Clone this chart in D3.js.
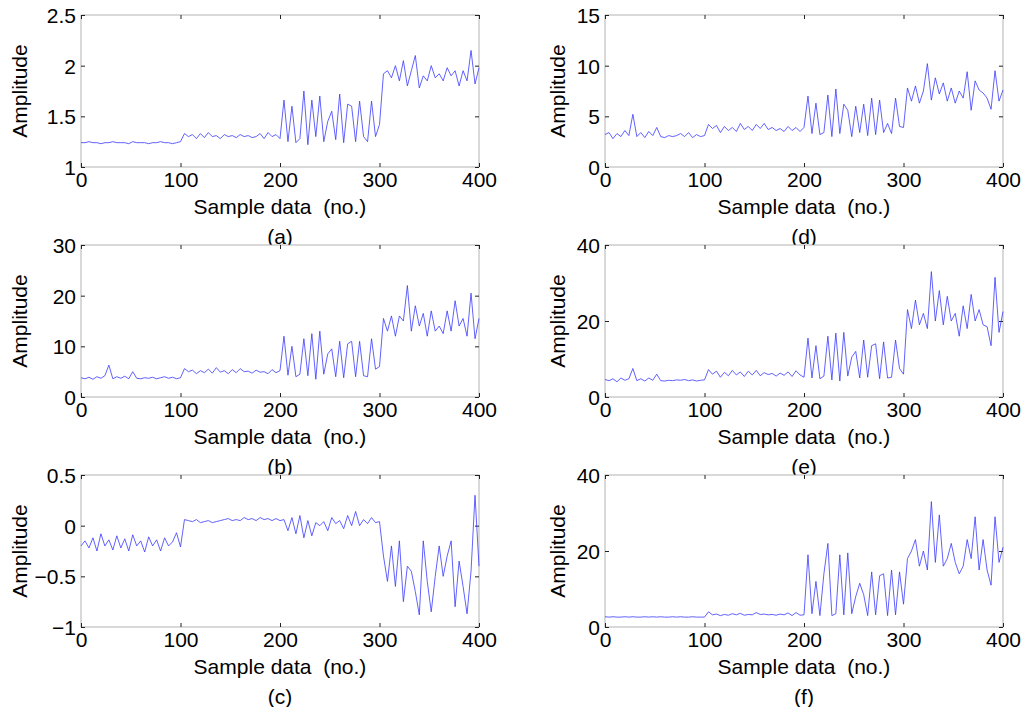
<!DOCTYPE html>
<html><head><meta charset="utf-8">
<script src="https://cdn.jsdelivr.net/npm/d3@7"></script>
<style>body{margin:0;background:#fff} text{white-space:pre}</style></head>
<body><svg id="c" width="1024" height="707"></svg>
<script>
// sample positions: every 4th sample, 0..400
const samples = d3.range(0, 401, 4);
const seriesA = [1.24,1.24,1.25,1.24,1.24,1.23,1.24,1.24,1.25,1.24,1.24,1.24,1.23,1.25,1.24,1.24,1.24,1.23,1.24,1.24,1.25,1.24,1.24,1.23,1.24,1.25,
 1.33,1.30,1.32,1.28,1.33,1.29,1.34,1.30,1.31,1.28,1.32,1.30,1.31,1.29,1.32,1.30,1.31,1.29,1.30,1.33,1.28,1.34,1.30,1.32,1.28,
 1.66,1.25,1.60,1.24,1.28,1.75,1.22,1.66,1.30,1.70,1.25,1.45,1.55,1.27,1.72,1.24,1.62,1.60,1.25,1.65,1.30,1.25,1.65,1.30,1.42,
 1.92,1.95,1.88,2.00,1.85,2.05,1.80,1.95,2.10,1.78,1.90,1.85,2.00,1.88,1.92,1.85,1.98,1.90,1.95,1.80,1.95,1.85,2.15,1.82,1.98];
const seriesB = [3.8,3.6,3.9,3.5,4.0,3.7,4.2,6.3,3.6,4.0,3.7,4.1,3.6,5.0,3.7,3.6,3.8,3.7,3.9,3.6,3.8,4.0,3.7,3.9,3.6,3.8,
 5.6,5.0,5.3,4.6,5.2,4.8,5.5,4.7,5.8,4.9,5.2,4.6,5.4,4.8,5.6,5.0,5.1,4.7,5.3,4.9,5.0,4.6,5.4,4.8,5.2,
 12,4.3,10,4.0,4.5,11.5,4.2,12.5,3.5,13,4.5,8.5,9.5,4.0,11,3.8,10.5,11,4.0,11,4.2,4.0,11.5,5.5,6.0,
 15.5,13,16,12,16,15,22,13,18,14,16.5,12,17,13,14,12.5,17,13,19,14,15.5,12,20.5,11.5,15.5];
const seriesC = [-0.2,-0.15,-0.22,-0.12,-0.25,-0.08,-0.2,-0.14,-0.24,-0.1,-0.22,-0.13,-0.25,-0.09,-0.2,-0.15,-0.26,-0.11,-0.2,-0.14,-0.25,-0.12,-0.2,-0.16,-0.07,-0.21,
 0.06,0.05,0.04,0.06,0.03,0.04,0.05,0.03,0.04,0.05,0.06,0.07,0.05,0.06,0.05,0.08,0.06,0.07,0.05,0.08,0.06,0.07,0.05,0.07,0.05,
 0.06,-0.05,0.08,-0.08,0.1,-0.12,0.05,-0.1,0.03,0.0,0.04,-0.05,0.08,0.02,0.05,-0.03,0.1,0.0,0.14,0.0,0.06,0.02,0.08,0.03,0.04,
 -0.3,-0.55,-0.2,-0.6,-0.15,-0.75,-0.4,-0.45,-0.65,-0.88,-0.15,-0.55,-0.85,-0.5,-0.2,-0.5,-0.3,-0.15,-0.8,-0.35,-0.6,-0.87,-0.45,0.3,-0.4];
const seriesD = [3.2,3.4,2.8,3.3,3.0,3.6,3.1,5.2,3.0,3.4,2.9,3.5,3.1,3.9,3.0,2.9,3.1,3.0,3.1,3.3,3.0,3.4,2.9,3.2,3.0,3.1,
 4.2,3.8,4.1,3.4,4.0,3.6,3.9,3.5,4.3,3.7,4.0,3.6,4.2,3.8,4.3,3.7,3.9,3.6,3.8,3.5,4.0,3.6,3.9,3.5,3.9,
 7.0,3.3,6.3,3.2,3.4,7.1,3.0,7.7,3.3,6.2,5.6,3.0,6.0,3.4,6.2,3.1,6.8,3.2,6.6,3.4,4.3,3.3,6.8,4.0,3.9,
 7.8,6.5,8.0,6.3,7.5,10.2,6.6,8.8,7.2,8.3,6.5,7.8,6.3,7.5,6.8,9.4,5.6,8.5,7.6,7.3,6.8,5.7,9.5,6.5,7.6];
const seriesE = [4.6,4.3,4.8,4.0,5.0,4.4,4.8,7.5,4.3,4.8,4.2,5.0,4.4,6.0,4.3,4.2,4.4,4.3,4.5,4.4,4.6,4.3,4.5,4.2,4.4,4.5,
 7.2,6.0,6.8,5.2,6.5,5.6,7.0,5.8,6.6,5.4,6.8,5.8,7.0,5.6,6.4,5.9,6.2,5.5,6.3,5.7,6.6,5.4,6.9,5.8,5.2,
 15.5,5.0,13.5,4.8,5.5,16,4.5,16.8,4.2,17,5.5,10.5,12,5.0,15,5.2,13.5,14,4.8,14.5,5.0,5.2,15,7.5,6.0,
 23,18,25.5,19,22,18,33,20,28,19,26.5,20,22,16,24,18,27,20,23,19,18.5,13.5,31.5,17,22.5];
const seriesF = [2.7,2.6,2.7,2.6,2.6,2.7,2.6,2.7,2.6,2.6,2.7,2.6,2.7,2.6,2.7,2.6,2.6,2.7,2.6,2.7,2.6,2.6,2.7,2.6,2.6,2.6,
 4.0,3.2,3.4,3.0,3.3,3.1,3.5,3.2,3.6,3.1,3.3,3.2,3.8,3.3,3.4,3.2,3.3,3.1,3.4,3.2,3.7,3.0,3.8,3.1,3.2,
 19,3.5,12,3.0,14,22,3.0,3.5,19,3.2,19.5,3.5,8.0,11.5,8.5,3.0,14.5,3.2,13.5,14,3.0,15,3.2,14.5,6.0,
 18,20,23,16,20,15,33,17,29.5,16,18,22,17,14,16,23,18,29,15,23,15,11,29,17,21];
const xTicks = [0,100,200,300,400];
const yTicksA = [1,1.5,2,2.5], yTicksB = [0,10,20,30], yTicksC = [-1,-0.5,0,0.5];
const yTicksD = [0,5,10,15], yTicksE = [0,20,40], yTicksF = [0,20,40];
const captions = ["(a)","(b)","(c)","(d)","(e)","(f)"];

const panels = [
 {s:seriesA,t:yTicksA,x:81,y:15},{s:seriesB,t:yTicksB,x:81,y:245},{s:seriesC,t:yTicksC,x:81,y:475},
 {s:seriesD,t:yTicksD,x:605,y:15},{s:seriesE,t:yTicksE,x:605,y:245},{s:seriesF,t:yTicksF,x:605,y:475}];
const W=398,H=152,font="Liberation Sans, Arial, sans-serif",fs=21;
const svg=d3.select("#c");
panels.forEach((p,i)=>{
 const g=svg.append("g").attr("transform",`translate(${p.x},${p.y})`);
 const x=d3.scaleLinear().domain([0,400]).range([0,W]);
 const y=d3.scaleLinear().domain(d3.extent(p.t)).range([H,0]);
 g.append("rect").attr("width",W).attr("height",H).attr("fill","#fff").attr("stroke","#a0a0a0").attr("stroke-width",0.8);
 const tk=4;
 const ax=g.append("g").attr("transform",`translate(0,${H})`).call(d3.axisBottom(x).tickValues(xTicks).tickSize(-tk).tickPadding(7));
 const ay=g.append("g").call(d3.axisLeft(y).tickValues(p.t).tickSize(-tk).tickPadding(5).tickFormat(d3.format("")));
 g.append("g").call(d3.axisTop(x).tickValues(xTicks).tickSize(-tk).tickFormat(""));
 g.append("g").attr("transform",`translate(${W},0)`).call(d3.axisRight(y).tickValues(p.t).tickSize(-tk).tickFormat(""));
 g.selectAll(".domain").remove();
 g.selectAll(".tick line").attr("stroke","#222");
 g.selectAll(".tick text").attr("font-family",font).attr("font-size",fs).attr("fill","#000");
 ax.selectAll(".tick text").attr("dy","0.6em");
 ay.selectAll(".tick text").attr("dy","0.36em");
 g.append("path").datum(p.s).attr("fill","none").attr("stroke","#3a3aff").attr("stroke-width",0.8)
  .attr("d",d3.line().x((d,j)=>x(samples[j])).y(d=>y(d)));
 g.append("text").attr("transform",`translate(${i<3?-61:-47},${H/2}) rotate(-90)`).attr("text-anchor","middle")
  .attr("dy","0.35em").attr("font-family",font).attr("font-size",fs).text("Amplitude");
 g.append("text").attr("x",W/2).attr("y",H+47).attr("text-anchor","middle").attr("font-family",font).attr("font-size",fs).text("Sample data  (no.)");
 g.append("text").attr("x",W/2).attr("y",H+77).attr("text-anchor","middle").attr("font-family",font).attr("font-size",fs).text(captions[i]);
});
</script></body></html>
